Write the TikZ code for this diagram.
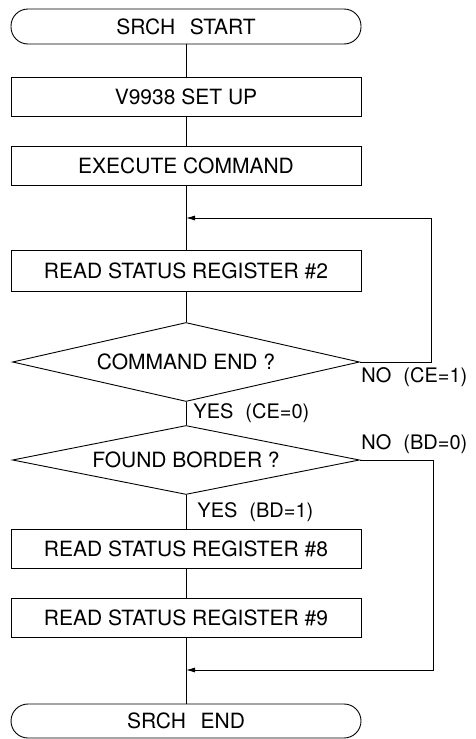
\documentclass[tikz,border=0pt]{standalone}
\usepackage{fontspec}
\setmainfont{TeX Gyre Heros}
\usetikzlibrary{shapes.geometric,arrows.meta}
\begin{document}
\begin{tikzpicture}[x=1pt,y=-1pt,
  line width=0.9pt,
  every node/.style={font=\fontsize{21}{23}\selectfont},
  procbox/.style={draw,rectangle,minimum width=350pt,minimum height=39pt,inner sep=0pt},
  termbox/.style={draw,rectangle,rounded corners=17pt,minimum width=350pt,minimum height=35pt,inner sep=0pt},
  decbox/.style={draw,diamond,aspect=4.4,inner sep=1pt,minimum width=347pt},
  lbl/.style={font=\fontsize{20}{22}\selectfont,anchor=west,inner sep=0pt},
  arr/.style={-{Latex[length=9pt,width=5pt]}}
]
\useasboundingbox (0,0) rectangle (476,739);
\node[termbox] (start) at (186,26.5) {SRCH\hspace{0.7em}START};
\node[procbox] (setup) at (186,96.5) {V9938 SET UP};
\node[procbox] (exec) at (186,166) {EXECUTE COMMAND};
\node[procbox,minimum height=41pt] (rs2) at (186,270.5) {READ STATUS REGISTER \#2};
\node[decbox,minimum height=79pt] (ce) at (186,362) {COMMAND END ?};
\node[decbox,minimum height=69pt] (bd) at (186,460) {FOUND BORDER ?};
\node[procbox] (rs8) at (186,548.5) {READ STATUS REGISTER \#8};
\node[procbox] (rs9) at (186,617.5) {READ STATUS REGISTER \#9};
\node[termbox,minimum height=34pt] (endn) at (186,721) {SRCH\hspace{0.7em}END};

\coordinate (j1) at (186,218);
\coordinate (c1) at (431,218);
\coordinate (j2) at (186,670);
\coordinate (c2) at (433,670);

\draw (start) -- (setup);
\draw (setup) -- (exec);
\draw (exec) -- (rs2);
\draw (rs2) -- (ce);
\draw (ce) -- (bd);
\draw (bd) -- (rs8);
\draw (rs8) -- (rs9);
\draw (rs9) -- (endn);

\draw[arr] (ce.east) -| (c1) -- (j1);
\draw[arr] (bd.east) -| (c2) -- (j2);

\node[lbl] (no1) at (361,377) {NO\hspace{0.6em}(CE=1)};
\node[lbl] (yes1) at (193,413) {YES\hspace{0.6em}(CE=0)};
\node[lbl] (no2) at (361,444) {NO\hspace{0.6em}(BD=0)};
\node[lbl] (yes2) at (197,512) {YES\hspace{0.6em}(BD=1)};
\end{tikzpicture}
\end{document}
